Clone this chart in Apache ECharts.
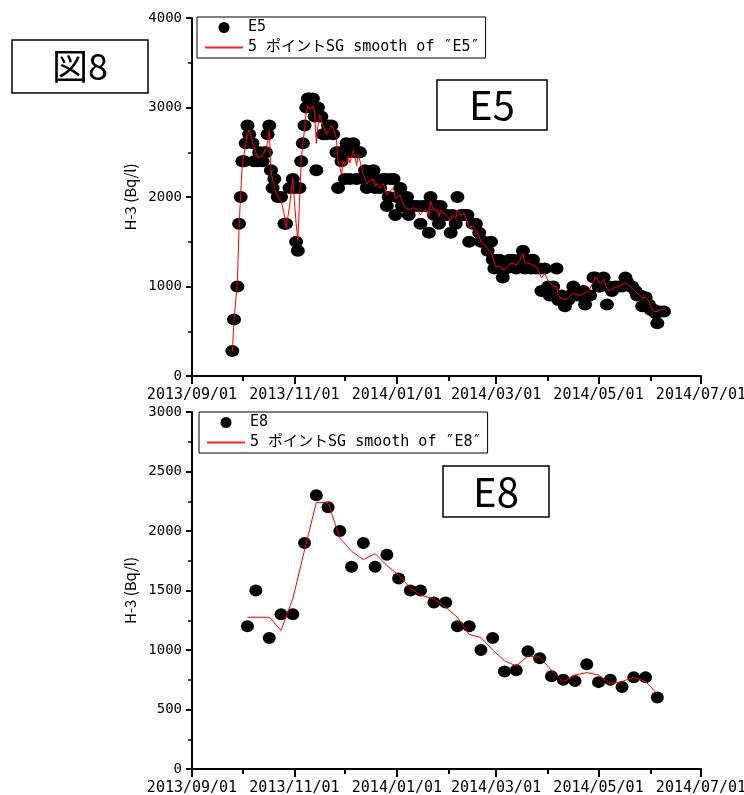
<!DOCTYPE html>
<html>
<head>
<meta charset="utf-8">
<script src="https://cdn.jsdelivr.net/npm/echarts@6.0.0/dist/echarts.min.js"></script>
<style>
html, body { margin: 0; padding: 0; background: #fff; }
#chart { width: 744px; height: 795px; }
</style>
</head>
<body>
<div id="chart"></div>
<script>
// E5 測定日
const e5Dates = [
  '2013-09-25','2013-09-26','2013-09-28','2013-09-29','2013-09-30',
  '2013-10-01','2013-10-02','2013-10-03','2013-10-04','2013-10-05','2013-10-07','2013-10-08','2013-10-10','2013-10-11','2013-10-13','2013-10-14','2013-10-15','2013-10-16','2013-10-17','2013-10-18','2013-10-19','2013-10-20','2013-10-22','2013-10-24','2013-10-26','2013-10-27','2013-10-29','2013-10-31',
  '2013-11-01','2013-11-02','2013-11-03','2013-11-04','2013-11-05','2013-11-06','2013-11-07','2013-11-08','2013-11-09','2013-11-10','2013-11-11','2013-11-12','2013-11-13','2013-11-14','2013-11-15','2013-11-16','2013-11-17','2013-11-18','2013-11-20','2013-11-21','2013-11-23','2013-11-24','2013-11-26','2013-11-27','2013-11-28','2013-11-29','2013-11-30',
  '2013-12-01','2013-12-02','2013-12-03','2013-12-04','2013-12-06','2013-12-07','2013-12-08','2013-12-09','2013-12-10','2013-12-12','2013-12-13','2013-12-14','2013-12-16','2013-12-18','2013-12-19','2013-12-20','2013-12-22','2013-12-24','2013-12-25','2013-12-26','2013-12-27','2013-12-28','2013-12-30','2013-12-31',
  '2014-01-01','2014-01-03','2014-01-04','2014-01-06','2014-01-07','2014-01-08','2014-01-09','2014-01-11','2014-01-13','2014-01-15','2014-01-16','2014-01-18','2014-01-20','2014-01-21','2014-01-23','2014-01-25','2014-01-26','2014-01-27','2014-01-29','2014-01-31',
  '2014-02-02','2014-02-03','2014-02-05','2014-02-06','2014-02-08','2014-02-10','2014-02-12','2014-02-13','2014-02-15','2014-02-17','2014-02-19','2014-02-20','2014-02-22','2014-02-24','2014-02-26','2014-02-27','2014-02-28',
  '2014-03-01','2014-03-03','2014-03-04','2014-03-05','2014-03-07','2014-03-09','2014-03-11','2014-03-13','2014-03-15','2014-03-17','2014-03-18','2014-03-20','2014-03-22','2014-03-23','2014-03-25','2014-03-27','2014-03-28','2014-03-30',
  '2014-04-01','2014-04-02','2014-04-04','2014-04-06','2014-04-07','2014-04-09','2014-04-11','2014-04-13','2014-04-14','2014-04-16','2014-04-18','2014-04-20','2014-04-22','2014-04-23','2014-04-25','2014-04-26','2014-04-28','2014-04-29',
  '2014-05-01','2014-05-02','2014-05-04','2014-05-06','2014-05-07','2014-05-09','2014-05-11','2014-05-13','2014-05-15','2014-05-17','2014-05-18','2014-05-20','2014-05-21','2014-05-23','2014-05-24','2014-05-26','2014-05-27','2014-05-29','2014-05-31',
  '2014-06-01','2014-06-03','2014-06-04','2014-06-05','2014-06-07','2014-06-09'
]
// E5 H-3 (Bq/l)
const e5Values = [
  280, 630, 1000, 1700, 2000,
  2400, 2400, 2600, 2800, 2700, 2600, 2400, 2400, 2500, 2400, 2500, 2500, 2700, 2800, 2300, 2100, 2200, 2000, 2000, 1700, 1700, 2100, 2200,
  2100, 1500, 1400, 2100, 2400, 2600, 2800, 3000, 3100, 3100, 3000, 3100, 2900, 2300, 3000, 2900, 2900, 2700, 2700, 2800, 2800, 2700, 2500, 2100, 2500, 2400, 2500,
  2200, 2600, 2500, 2200, 2600, 2500, 2200, 2500, 2500, 2200, 2300, 2100, 2200, 2300, 2100, 2200, 2100, 2200, 2200, 1900, 2000, 2200, 2200, 1800,
  2000, 2100, 1900, 1900, 2000, 1800, 1900, 1900, 1900, 1700, 1900, 1900, 1600, 2000, 1800, 1900, 1700, 1900, 1800, 1800,
  1600, 1800, 1700, 2000, 1800, 1800, 1800, 1500, 1700, 1700, 1600, 1500, 1500, 1400, 1500, 1300, 1200,
  1300, 1300, 1200, 1100, 1200, 1300, 1300, 1200, 1300, 1400, 1200, 1300, 1200, 1300, 1200, 1200, 950, 1200,
  1000, 900, 1000, 1200, 850, 900, 780, 850, 900, 1000, 900, 900, 950, 800, 900, 900, 1100, 1100,
  1000, 1000, 1100, 800, 1000, 950, 1000, 1000, 1000, 1100, 1050, 1000, 1000, 950, 900, 900, 780, 880, 800,
  740, 740, 700, 590, 720, 720
]
// 5 ポイント SG smooth (E5)
const e5Smooth = [
  270, 620, 1050, 1650, 2050,
  2380, 2480, 2600, 2700, 2750, 2620, 2560, 2440, 2420, 2460, 2500, 2520, 2600, 2740, 2300, 2190, 2110, 2000, 1960, 1800, 1650, 1890, 2210,
  1950, 1700, 1510, 1950, 2400, 2600, 2750, 2950, 3020, 2980, 3000, 3020, 2950, 2600, 2800, 2920, 2850, 2800, 2700, 2740, 2800, 2770, 2650, 2380, 2330, 2250, 2400,
  2350, 2420, 2450, 2380, 2520, 2450, 2350, 2470, 2400, 2250, 2200, 2150, 2180, 2200, 2120, 2150, 2100, 2150, 2130, 2020, 2040, 2070, 2100, 1980,
  2000, 2020, 1950, 1880, 1900, 1860, 1850, 1880, 1860, 1800, 1830, 1860, 1780, 1950, 1850, 1860, 1780, 1850, 1820, 1780,
  1740, 1800, 1760, 1850, 1800, 1820, 1720, 1650, 1680, 1640, 1560, 1490, 1470, 1420, 1380, 1330, 1260,
  1220, 1230, 1210, 1185, 1200, 1250, 1260, 1240, 1290, 1370, 1270, 1260, 1250, 1270, 1220, 1150, 1095, 1150,
  1060, 1050, 1000, 1000, 900, 870, 850, 880, 900, 930, 910, 900, 920, 900, 950, 930, 1050, 1110,
  1060, 1030, 1080, 980, 950, 970, 990, 1000, 1020, 1040, 1040, 1000, 990, 950, 920, 900, 870, 880, 840,
  780, 720, 700, 720, 740, 750
]

// E8 測定日
const e8Dates = [
  '2013-10-04','2013-10-09','2013-10-17','2013-10-24','2013-10-31','2013-11-07','2013-11-14','2013-11-21','2013-11-28',
  '2013-12-05','2013-12-12','2013-12-19','2013-12-26','2014-01-02','2014-01-09','2014-01-15','2014-01-23','2014-01-30',
  '2014-02-06','2014-02-13','2014-02-20','2014-02-27','2014-03-06','2014-03-13','2014-03-20','2014-03-27','2014-04-03',
  '2014-04-10','2014-04-17','2014-04-24','2014-05-01','2014-05-08','2014-05-15','2014-05-22','2014-05-29','2014-06-05'
]
const e8Values = [
  1200, 1500, 1100, 1300, 1300, 1900, 2300, 2200, 2000,
  1700, 1900, 1700, 1800, 1600, 1500, 1500, 1400, 1400,
  1200, 1200, 1000, 1100, 820, 830, 990, 930, 780,
  750, 740, 880, 730, 750, 690, 770, 770, 600
]
const e8Smooth = [
  1275, 1275, 1275, 1165, 1430, 1840, 2240, 2240, 1940,
  1830, 1760, 1810, 1710, 1630, 1520, 1460, 1430, 1360,
  1275, 1130, 1105, 1000, 910, 865, 950, 940, 830,
  735, 790, 810, 790, 715, 735, 770, 735, 630
]

// x 軸の目盛
const xMajorTicks = ['2013-09-01', '2013-11-01', '2014-01-01', '2014-03-01', '2014-05-01', '2014-07-01']
const xMinorTicks = ['2013-10-01', '2013-12-01', '2014-02-01', '2014-04-01', '2014-06-01']

function toTime(s) {
  const [y, m, d] = s.split('-').map(Number)
  return Date.UTC(y, m - 1, d)
}
function pad(n) { return n < 10 ? '0' + n : '' + n }
function fmtDate(v) {
  const d = new Date(v)
  return d.getUTCFullYear() + '/' + pad(d.getUTCMonth() + 1) + '/' + pad(d.getUTCDate())
}
function pairs(dates, vals) { return dates.map((d, i) => [toTime(d), vals[i]]) }

const MONO = "'DejaVu Sans Mono', 'Noto Sans CJK JP', monospace"
const JP = "'Noto Sans CJK JP', sans-serif"
const xMin = toTime(xMajorTicks[0])
const xMax = toTime(xMajorTicks[xMajorTicks.length - 1])
const majorVals = xMajorTicks.map(toTime)
const minorVals = xMinorTicks.map(toTime)

const axisLine = { show: true, onZero: false, lineStyle: { color: '#000', width: 2 } }

function xAxes(gridIndex) {
  return [
    {
      type: 'value', gridIndex, position: 'bottom', min: xMin, max: xMax,
      axisLine,
      axisTick: { show: true, length: 8, lineStyle: { color: '#000', width: 2 }, customValues: majorVals },
      axisLabel: { color: '#000', fontSize: 15, fontFamily: MONO, margin: 12, customValues: majorVals, formatter: fmtDate },
      splitLine: { show: false }
    },
    {
      type: 'value', gridIndex, position: 'bottom', min: xMin, max: xMax,
      axisLine: { show: false },
      axisTick: { show: true, length: 5, lineStyle: { color: '#000', width: 2 }, customValues: minorVals },
      axisLabel: { show: false },
      splitLine: { show: false }
    }
  ]
}

function yAxis(gridIndex, max, interval) {
  return {
    type: 'value', gridIndex, min: 0, max, interval,
    name: 'H-3 (Bq/l)', nameLocation: 'middle', nameRotate: 90, nameGap: 46,
    nameTextStyle: { color: '#000', fontSize: 15, fontFamily: JP },
    axisLine,
    axisTick: { show: true, length: 6, lineStyle: { color: '#000', width: 2 } },
    minorTick: { show: true, splitNumber: 2, length: 4, lineStyle: { color: '#000', width: 1.5 } },
    axisLabel: { color: '#000', fontSize: 14, fontFamily: MONO, margin: 10, formatter: v => String(v) },
    splitLine: { show: false }
  }
}

// 線だけの凡例アイコン
const LINE_ICON = 'path://M0,0L38,0L38,2L0,2Z'

function legend(left, top, names) {
  return {
    left, top, orient: 'vertical',
    data: [
      { name: names[0], icon: 'circle', itemStyle: { color: '#000' } },
      { name: names[1], icon: LINE_ICON, itemStyle: { color: '#ff2020', borderWidth: 0 } }
    ],
    itemWidth: 38, itemHeight: 11, itemGap: 5,
    padding: [3, 6, 3, 8],
    borderColor: '#000', borderWidth: 1, borderRadius: 0,
    itemStyle: { borderWidth: 0 },
    inactiveColor: '#ff2020',
    textStyle: { color: '#000', fontSize: 15, fontFamily: MONO },
    selectedMode: false
  }
}

const e5LineName = '5 ポイントSG smooth of ″E5″'
const e8LineName = '5 ポイントSG smooth of ″E8″'

function titleBox(x, y, w, h, text, size) {
  return [
    { type: 'rect', shape: { x, y, width: w, height: h }, style: { fill: '#fff', stroke: '#000', lineWidth: 1.5 }, z: 10 },
    { type: 'text', x: x + w / 2, y: y + h / 2, style: { text, fontSize: size, fontFamily: JP, fill: '#000', align: 'center', verticalAlign: 'middle' }, z: 11 }
  ]
}

const chart = echarts.init(document.getElementById('chart'), null, { renderer: 'canvas' })

chart.setOption({
  backgroundColor: '#fff',
  animation: false,
  grid: [
    { left: 192, top: 18, width: 509, height: 358, outerBoundsMode: 'none' },
    { left: 192, top: 412, width: 509, height: 357, outerBoundsMode: 'none' }
  ],
  xAxis: [...xAxes(0), ...xAxes(1)],
  yAxis: [yAxis(0, 4000, 1000), yAxis(1, 3000, 500)],
  legend: [
    legend(197, 17, ['E5', e5LineName]),
    legend(199, 412, ['E8', e8LineName])
  ],
  series: [
    {
      name: 'E5', type: 'scatter', xAxisIndex: 0, yAxisIndex: 0,
      data: pairs(e5Dates, e5Values),
      symbol: 'circle', symbolSize: [14, 12],
      itemStyle: { color: '#000', opacity: 1 }
    },
    {
      name: e5LineName, type: 'line', xAxisIndex: 0, yAxisIndex: 0,
      data: pairs(e5Dates, e5Smooth),
      symbol: 'none', z: 5,
      lineStyle: { color: '#ff0000', width: 1 },
      itemStyle: { color: '#ff0000' }
    },
    {
      name: 'E8', type: 'scatter', xAxisIndex: 2, yAxisIndex: 1,
      data: pairs(e8Dates, e8Values),
      symbol: 'circle', symbolSize: [13, 12],
      itemStyle: { color: '#000', opacity: 1 }
    },
    {
      name: e8LineName, type: 'line', xAxisIndex: 2, yAxisIndex: 1,
      data: pairs(e8Dates, e8Smooth),
      symbol: 'none', z: 5,
      lineStyle: { color: '#ff0000', width: 1 },
      itemStyle: { color: '#ff0000' }
    }
  ],
  graphic: [
    ...titleBox(12, 40, 136, 53, '図8', 36),
    ...titleBox(437, 80, 110, 50, 'E5', 40),
    ...titleBox(443, 466, 106, 51, 'E8', 40)
  ]
})
</script>
</body>
</html>
